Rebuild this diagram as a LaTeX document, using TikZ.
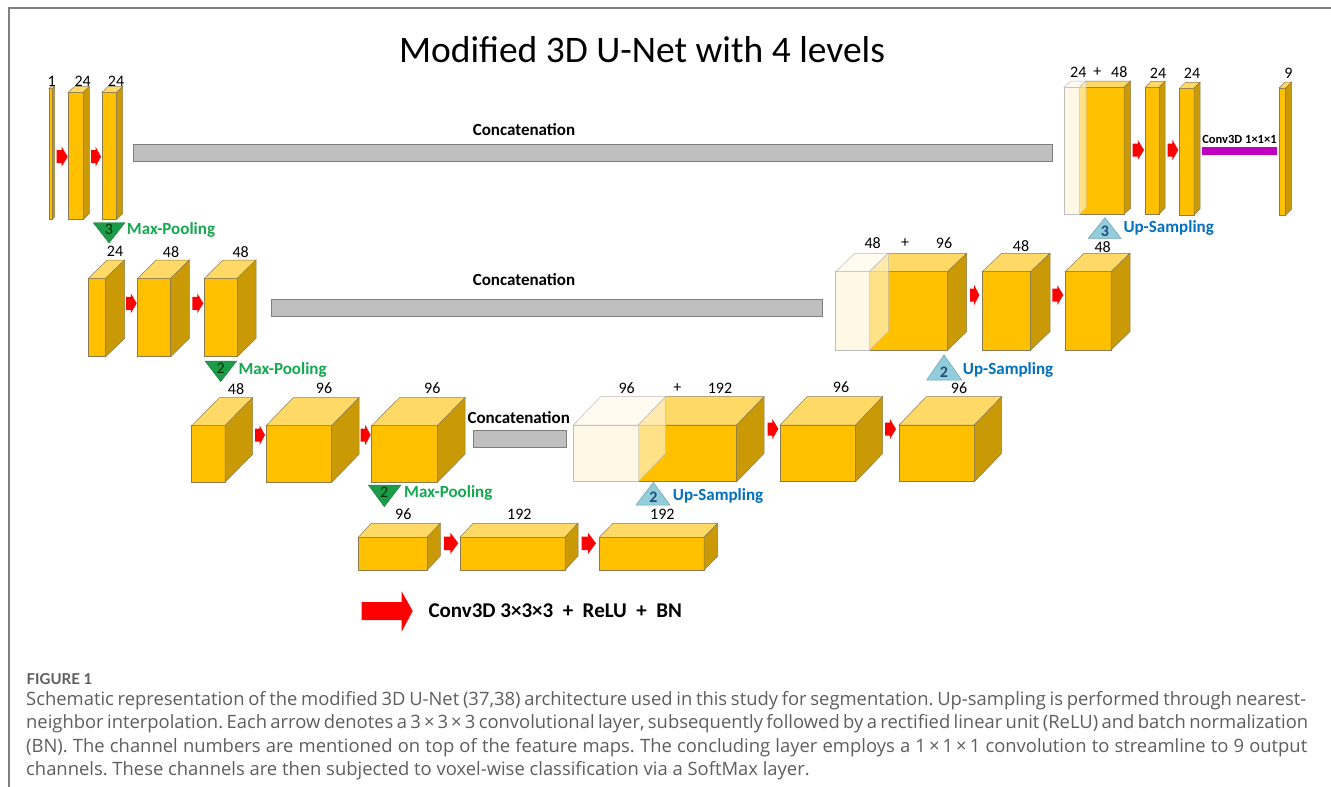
\documentclass[tikz,border=0pt]{standalone}
\usepackage{fontspec}
\setmainfont{Carlito}
\newfontfamily\capfont{Open Sans}
\newfontfamily\figfont{Lato}
\frenchspacing
\definecolor{ofront}{HTML}{FFC000}
\definecolor{otop}{HTML}{FFD966}
\definecolor{oside}{HTML}{C99A06}
\definecolor{edgec}{HTML}{8C7B50}
\definecolor{cfront}{HTML}{FFF8E6}
\definecolor{ctop}{HTML}{FFFBF0}
\definecolor{cside}{HTML}{FFF3D0}
\definecolor{cedge}{HTML}{BDBDBD}
\definecolor{barfill}{HTML}{BFBFBF}
\definecolor{baredge}{HTML}{7F7F7F}
\definecolor{poolfill}{HTML}{1C9B48}
\definecolor{pooltext}{HTML}{14A84F}
\definecolor{upfill}{HTML}{92CDDC}
\definecolor{upedge}{HTML}{6F9FAF}
\definecolor{upnum}{HTML}{1F4E79}
\definecolor{uptext}{HTML}{0070C0}
\definecolor{convpurple}{HTML}{C000C0}
\definecolor{capgray}{HTML}{5E5E5E}
\definecolor{framegray}{HTML}{808080}
\newcommand{\ocube}[6]{%
 \filldraw[fill=ofront,draw=edgec,line width=0.5pt] (#1,#3) rectangle (#2,#4);
 \filldraw[fill=otop,draw=edgec,line width=0.5pt] (#1,#3) -- ({#1+#5},{#3-#6}) -- ({#2+#5},{#3-#6}) -- (#2,#3) -- cycle;
 \filldraw[fill=oside,draw=edgec,line width=0.5pt] (#2,#3) -- ({#2+#5},{#3-#6}) -- ({#2+#5},{#4-#6}) -- (#2,#4) -- cycle;}
\newcommand{\ccube}[6]{%
 \filldraw[fill=cfront,draw=cedge,line width=0.5pt] (#1,#3) rectangle (#2,#4);
 \filldraw[fill=ctop,draw=cedge,line width=0.5pt] (#1,#3) -- ({#1+#5},{#3-#6}) -- ({#2+#5},{#3-#6}) -- (#2,#3) -- cycle;
 \fill[cside,opacity=0.65] (#2,#3) -- ({#2+#5},{#3-#6}) -- ({#2+#5},{#4-#6}) -- (#2,#4) -- cycle;
 \draw[cedge,line width=0.5pt] (#2,#3) -- ({#2+#5},{#3-#6}) -- ({#2+#5},{#4-#6}) -- (#2,#4);}
% red block arrow: x1, x2, yc, shaft half, head half
\newcommand{\conv}[5]{%
 \fill[red] (#1,{#3-#4}) -- ({#1+0.45*(#2-#1)},{#3-#4}) -- ({#1+0.45*(#2-#1)},{#3-#5}) -- (#2,#3)
   -- ({#1+0.45*(#2-#1)},{#3+#5}) -- ({#1+0.45*(#2-#1)},{#3+#4}) -- (#1,{#3+#4}) -- cycle;}
\tikzset{
 num/.style={font=\fontsize{16}{16}\selectfont, inner sep=0pt},
 concat/.style={font=\bfseries\fontsize{17}{17}\selectfont, inner sep=0pt},
 bar/.style={fill=barfill, draw=baredge, line width=0.6pt},
 pooltri/.style={fill=poolfill, draw=poolfill!80!black, line width=0.4pt},
 uptri/.style={fill=upfill, draw=upedge, line width=0.5pt},
 poolnum/.style={font=\fontsize{16}{16}\selectfont, text=black!80!green, inner sep=0pt},
 upnumst/.style={font=\bfseries\fontsize{16}{16}\selectfont, text=upnum, inner sep=0pt},
 poollab/.style={font=\bfseries\fontsize{17}{17}\selectfont, text=pooltext, anchor=west, inner sep=0pt},
 uplab/.style={font=\bfseries\fontsize{17}{17}\selectfont, text=uptext, anchor=west, inner sep=0pt},
 capline/.style={font=\capfont\fontsize{18.4}{18.4}\selectfont, text=capgray, anchor=base west, inner sep=0pt},
}
\begin{document}
\begin{tikzpicture}[x=1pt,y=-1pt]
\useasboundingbox (0,0) rectangle (1331,787);
\fill[white] (0,0) rectangle (1331,787);
\draw[framegray,line width=1.2pt] (9,787) -- (9,8) -- (1331,8);
\node[font=\fontsize{37.5}{37.5}\selectfont, inner sep=0pt] (title) at (642,50) {Modified 3D U-Net with 4 levels};

% ===== Level 1 left
\ocube{49}{52.5}{88.5}{219}{2}{2}
\ocube{68.3}{83.3}{92.3}{219.3}{6}{5.7}
\ocube{102}{116.7}{92.3}{219.3}{6}{5.7}
\conv{56.7}{67.7}{156.7}{6.5}{10}
\conv{91}{101}{156.7}{6.5}{10}
\node[num] (l1a) at (51.7,81) {1};
\node[num] (l1b) at (82.7,81) {24};
\node[num] (l1c) at (116,81) {24};
\draw[bar] (133.3,144.3) rectangle (1052,161);
\node[concat] (cat1) at (524,130) {Concatenation};
\draw[pooltri] (93.3,222.7) -- (125,222.7) -- (109,243) -- cycle;
\node[poolnum] (mp3n) at (109,229.5) {3};
\node[poollab] (mp3) at (126.7,229.5) {Max-Pooling};

% ===== Level 1 right
\ocube{1079.3}{1124}{87.3}{214.3}{6.7}{6.3}
\ccube{1064}{1079.3}{87.3}{214.3}{6.7}{6.3}
\ocube{1145.3}{1159.3}{87.3}{214}{5.7}{6}
\ocube{1179.3}{1194}{88.3}{215}{6}{6}
\ocube{1279}{1285.7}{88}{215}{6}{6}
\conv{1132.7}{1144}{150}{6.5}{10}
\conv{1167.7}{1178.3}{150}{6.5}{10}
\fill[convpurple] (1202.3,146.7) rectangle (1276.7,155);
\node[font=\bfseries\fontsize{12.5}{12.5}\selectfont, inner sep=0pt] (c111) at (1239.5,139) {Conv3D 1×1×1};
\node[num] (r1a) at (1078.3,72.5) {24};
\node[num] (r1p) at (1097.3,72.5) {+};
\node[num] (r1b) at (1119.3,72.5) {48};
\node[num] (r1c) at (1158,73) {24};
\node[num] (r1d) at (1192,73) {24};
\node[num] (r1e) at (1288.3,73) {9};
\draw[uptri] (1088.3,238.3) -- (1105,217.7) -- (1121,238.3) -- cycle;
\node[upnumst] (up3n) at (1105,231) {3};
\node[uplab] (up3) at (1123.3,228.3) {Up-Sampling};

% ===== Level 2 left
\ocube{88.3}{105.7}{278.3}{356.7}{19}{18.3}
\ocube{137.7}{170.7}{278.3}{356.7}{18.6}{18.3}
\ocube{204.3}{237.3}{278.3}{356.7}{18.7}{18.3}
\conv{126}{136.7}{303.3}{6.5}{10}
\conv{192.3}{203.3}{303.3}{6.5}{10}
\node[num] (l2a) at (115,251.7) {24};
\node[num] (l2b) at (171,251.7) {48};
\node[num] (l2c) at (240.7,251.7) {48};
\draw[bar] (271.7,299.3) rectangle (822,316);
\node[concat] (cat2) at (524,280) {Concatenation};
\draw[pooltri] (205,361) -- (236.7,361) -- (220.7,381.7) -- cycle;
\node[poolnum] (mp2an) at (220.7,368.5) {2};
\node[poollab] (mp2a) at (238.3,370) {Max-Pooling};

% ===== Level 2 right
\ocube{869.3}{947.7}{271.7}{350}{19}{18.4}
\ccube{835.7}{869.3}{271.7}{350}{19}{18.4}
\ocube{982.3}{1030.7}{271.7}{350}{19.3}{18.4}
\ocube{1065}{1111}{271.7}{350}{19}{18.4}
\conv{970}{979.3}{295}{6.5}{10}
\conv{1052.3}{1063.3}{295}{6.5}{10}
\node[num] (r2a) at (872.7,243.3) {48};
\node[num] (r2p) at (905,243.3) {+};
\node[num] (r2b) at (944,243.3) {96};
\node[num] (r2c) at (1021,245.7) {48};
\node[num] (r2d) at (1102.7,246.7) {48};
\draw[uptri] (926.7,380) -- (944,355) -- (961.7,380) -- cycle;
\node[upnumst] (up2an) at (944,372) {2};
\node[uplab] (up2a) at (962.7,370) {Up-Sampling};

% ===== Level 3 left
\ocube{191.7}{225}{425.7}{482.3}{27.7}{28}
\ocube{266}{331.7}{425.7}{482.3}{27.3}{28}
\ocube{371.7}{437.3}{425.7}{482.3}{27.7}{28}
\conv{255}{265}{435}{6.5}{10}
\conv{360.7}{370.7}{435}{6.5}{10}
\node[num] (l3a) at (236,389) {48};
\node[num] (l3b) at (324,388) {96};
\node[num] (l3c) at (432.3,388) {96};
\node[concat] (cat3) at (518.7,417.3) {Concatenation};
\draw[bar] (473.3,430) rectangle (566,447.3);
\draw[pooltri] (368.3,485) -- (401,485) -- (384.3,506.7) -- cycle;
\node[poolnum] (mp2bn) at (384.3,492.5) {2};
\node[poollab] (mp2b) at (404,493.3) {Max-Pooling};

% ===== Level 3 right
\ocube{638.3}{736.7}{425}{481.7}{27.3}{28.3}
\ccube{573.3}{638.3}{425}{481.7}{27.3}{28.3}
\ocube{780}{855.7}{425}{481.7}{27}{28.3}
\ocube{899}{974.3}{425}{481.7}{27.4}{28.3}
\conv{767.7}{778.3}{429}{6.5}{10}
\conv{885}{896}{429}{6.5}{10}
\node[num] (r3a) at (626.7,388.3) {96};
\node[num] (r3p) at (677.3,388.3) {+};
\node[num] (r3b) at (720,388.3) {192};
\node[num] (r3c) at (841,387) {96};
\node[num] (r3d) at (959,388) {96};
\draw[uptri] (636,505) -- (653.3,482.3) -- (670,505) -- cycle;
\node[upnumst] (up2bn) at (653.3,497) {2};
\node[uplab] (up2b) at (672.7,495.7) {Up-Sampling};

% ===== Level 4
\ocube{358.3}{427.3}{537.3}{570}{13}{14}
\ocube{460}{565}{537.3}{570}{13}{14}
\ocube{599.3}{704}{537.3}{570}{13.7}{14}
\conv{444}{458.3}{543.3}{6.7}{10.5}
\conv{581.7}{596}{543.3}{6.7}{10.5}
\node[num] (l4a) at (403.3,514) {96};
\node[num] (l4b) at (519.3,514) {192};
\node[num] (l4c) at (662.3,514) {192};

% ===== Legend
\fill[red] (361.7,602) -- (401.7,602) -- (401.7,591.5) -- (412.7,611) -- (401.7,631.5) -- (401.7,620) -- (361.7,620) -- cycle;
\node[font=\bfseries\fontsize{21}{21}\selectfont, anchor=west, inner sep=0pt] (legend) at (428.3,611) {Conv3D 3×3×3~~+~~ReLU~~+~~BN};

% ===== Caption
\node[font=\figfont\bfseries\fontsize{15}{15}\selectfont, text=capgray, anchor=base west, inner sep=0pt] (fig) at (26.5,684) {FIGURE 1};
\node[capline] (cap1) at (26,705) {\makebox[1280pt][s]{Schematic representation of the modified 3D U-Net (37,38) architecture used in this study for segmentation. Up-sampling is performed through nearest-}};
\node[capline] (cap2) at (26,728.5) {\makebox[1282pt][s]{neighbor interpolation. Each arrow denotes a 3\,×\,3\,×\,3 convolutional layer, subsequently followed by a rectified linear unit (ReLU) and batch normalization}};
\node[capline] (cap3) at (26,752) {\makebox[1281pt][s]{(BN). The channel numbers are mentioned on top of the feature maps. The concluding layer employs a 1\,×\,1\,×\,1 convolution to streamline to 9 output}};
\node[capline] (cap4) at (26,775.5) {channels. These channels are then subjected to voxel-wise classification via a SoftMax layer.};
\end{tikzpicture}
\end{document}
